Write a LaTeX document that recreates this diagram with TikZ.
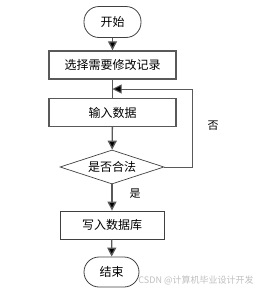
\documentclass[tikz,border=0pt]{standalone}
\usepackage{fontspec}
\newfontfamily\cjk{Noto Sans CJK SC}
\usetikzlibrary{shapes.geometric,arrows.meta}
\begin{document}
\begin{tikzpicture}[x=1pt,y=-1pt,
  every node/.style={font=\cjk\fontsize{12}{14}\selectfont, inner sep=0pt},
  term/.style={draw=black!75, rounded corners=15pt, minimum width=57pt, minimum height=31pt, line width=0.8pt},
  proc/.style={draw=black!65, minimum width=127pt, minimum height=28pt, line width=1.4pt},
  proc2/.style={draw=black!75, minimum width=104pt, minimum height=28pt, line width=0.9pt},
  dec/.style={draw=black!75, diamond, aspect=3.06, minimum width=104pt, minimum height=34pt, line width=0.7pt},
  conn/.style={draw=black!65, line width=1.3pt},
  arr/.style={conn, -{Triangle[length=9pt,width=9pt,fill=black]}},
  lbl/.style={font=\cjk\fontsize{11}{13}\selectfont}
]
\useasboundingbox (0,0) rectangle (262,292);
\node[term] (start) at (112.5,22) {开始};
\node[proc] (sel) at (112.5,65) {选择需要修改记录};
\node[proc] (inp) at (112.5,112.5) {输入数据};
\node[dec] (chk) at (112,167) {是否合法};
\node[proc2] (wr) at (112,225) {写入数据库};
\node[term, minimum width=55pt, minimum height=30pt] (end) at (111.5,272) {结束};
\coordinate (j) at (112.5,89);
\coordinate (r) at (192,167);
\coordinate (rt) at (192,89);
\draw[arr] (start) -- (sel);
\draw[conn] (sel) -- (inp);
\draw[arr] (inp) -- (chk);
\draw[arr] (chk) -- (wr);
\draw[arr] (wr) -- (end);
\draw[conn, line width=1pt, -{Triangle[length=9pt,width=9pt,fill=black]}] (chk.east) -- (r) -- (rt) -- (j);
\node[lbl] (no) at (213,126) {否};
\node[lbl] (yes) at (135,194) {是};
\node[font=\cjk\fontsize{9}{11}\selectfont, text=black!25] (wm) at (196,280) {CSDN @计算机毕业设计开发};
\end{tikzpicture}
\end{document}
